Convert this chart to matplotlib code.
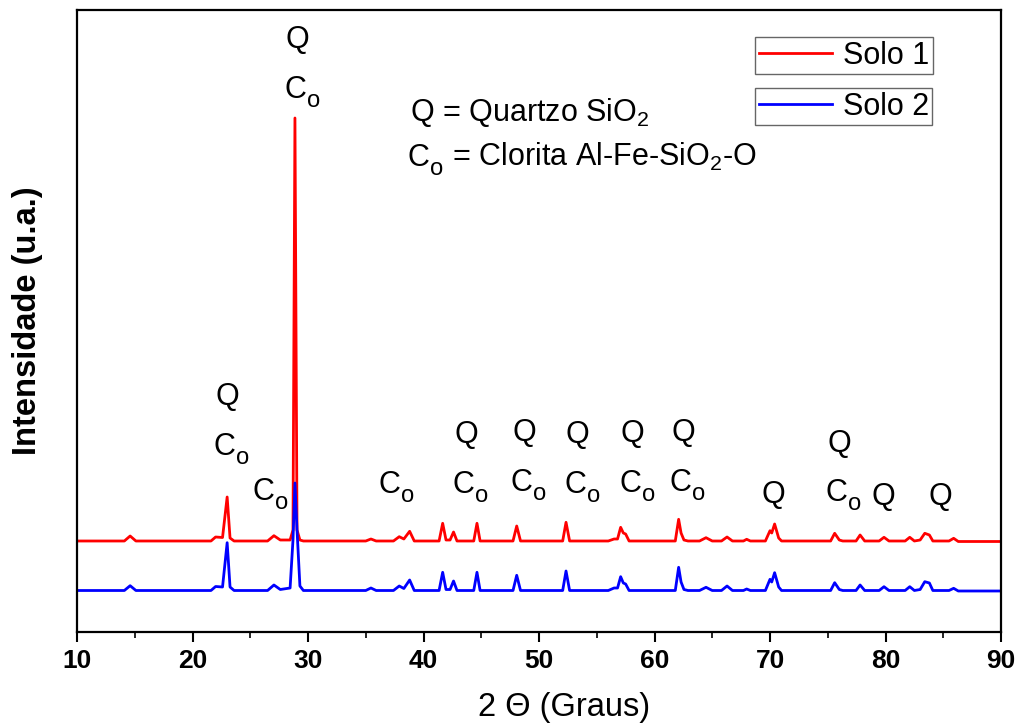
import matplotlib
matplotlib.use("Agg")
import matplotlib.pyplot as plt
from matplotlib.lines import Line2D
from matplotlib.ticker import MultipleLocator

plt.rcParams['font.family'] = ['Liberation Sans', 'DejaVu Sans']
plt.rcParams['mathtext.fontset'] = 'custom'
plt.rcParams['mathtext.rm'] = 'Liberation Sans'
plt.rcParams['mathtext.default'] = 'regular'

# ── Data ─────────────────────────────────────────────────────────────────────
two_theta = [10.0, 14.1, 14.6, 15.1, 21.6, 22.0, 22.6, 23.0, 23.25, 23.6,
             26.5, 27.05, 27.6, 28.45, 28.7, 28.87, 29.05, 29.3, 29.6,
             35.0, 35.45, 35.9, 37.4, 37.9, 38.3, 38.8, 39.2,
             41.35, 41.66, 41.95, 42.3, 42.6, 42.9, 44.35, 44.63, 44.9,
             47.75, 48.07, 48.4, 52.05, 52.34, 52.65,
             56.0, 56.5, 56.8, 57.07, 57.3, 57.5, 57.8,
             61.8, 62.09, 62.3, 62.55, 62.9, 63.9, 64.46, 65.0,
             65.8, 66.28, 66.75, 67.7, 67.98, 68.3,
             69.6, 70.0, 70.15, 70.4, 70.75, 71.0,
             75.25, 75.6, 76.0, 76.3, 77.45, 77.8, 78.2,
             79.45, 79.87, 80.3, 81.7, 82.1, 82.5,
             83.0, 83.4, 83.8, 84.1, 85.5, 85.9, 86.3, 90.0]

solo1 = [91, 91, 96, 91, 91, 95, 94.5, 135, 94, 91,
         91, 96.3, 92, 92, 102, 514, 102, 92, 91,
         91, 93, 91, 91, 95.3, 93, 100.7, 91,
         91, 108.7, 92, 92, 100, 91, 91, 108.7, 91,
         91, 106, 91, 91, 109.7, 91,
         91, 93, 93, 104.7, 99, 98, 91,
         91, 112.7, 99, 92, 91, 91, 94.3, 91,
         91, 95, 91, 91, 92.7, 91,
         91, 101.3, 99, 108, 94, 91,
         91, 98.7, 92, 91, 91, 97, 91,
         91, 94.7, 91, 91, 94.7, 91,
         92, 98.7, 97, 91, 91, 93.7, 90.5, 90.5]

solo2 = [41.5, 41.5, 46.3, 41.5, 41.5, 45.5, 45, 89.3, 45, 41.5,
         41.5, 47, 42.5, 44, 92, 149, 102, 46, 41.5,
         41.5, 44, 41.5, 41.5, 46, 43.5, 52, 41.5,
         41.5, 59.7, 42.5, 42.5, 51, 41.5, 41.5, 59.7, 41.5,
         41.5, 56.7, 41.5, 41.5, 61, 41.5,
         41.5, 44, 44, 55.3, 49, 48, 41.5,
         41.5, 64.7, 50, 42.5, 41.5, 41.5, 44.7, 41.5,
         41.5, 46, 41.5, 41.5, 43, 41.5,
         41.5, 52.7, 50, 59.3, 45, 41.5,
         41.5, 49.3, 42.5, 41.5, 41.5, 47, 41.5,
         41.5, 45.3, 41.5, 41.5, 45.3, 41.5,
         42.5, 50.3, 49, 41.5, 41.5, 43.7, 41, 41]

# Phase labels: Q = quartzo, Co = clorita (2theta, baseline height)
q_x = [22.99, 29.05, 43.68, 48.70, 53.29, 58.05, 62.47, 70.26, 75.97, 79.78, 84.72]
q_y = [227, 584, 189, 191, 189, 190, 191, 129, 180, 127, 127]
co_x = [23.33, 26.71, 29.48, 37.62, 44.03, 49.05, 53.72, 58.48, 62.81, 76.32]
co_y = [177, 132, 534, 139, 139, 141, 139, 140, 141, 131]

FS = 22


def co_label(ax, x, y, coords='data', dx0=None, fs=FS):
    """'C' with a large, dropped subscript 'o' (as drawn in the original)."""
    w_c = 0.722 * fs
    w_o = 0.556 * fs * 0.78
    left = -(w_c + w_o) / 2 if dx0 is None else dx0
    ax.annotate('C', (x, y), xycoords=coords, xytext=(left, 0),
                textcoords='offset points', fontsize=fs, ha='left', va='baseline')
    ax.annotate('o', (x, y), xycoords=coords, xytext=(left + w_c + 0.3, -6.5),
                textcoords='offset points', fontsize=fs * 0.78, ha='left',
                va='baseline')
    return left + w_c + w_o + 0.3


# ── Plot ─────────────────────────────────────────────────────────────────────
fig = plt.figure(figsize=(10.21, 7.28), dpi=100)
ax = fig.add_axes([77 / 1021, 1 - 632 / 728, 924 / 1021, 622 / 728])

ax.plot(two_theta, solo1, color='#ff0000', lw=2.0)
ax.plot(two_theta, solo2, color='#0000ff', lw=2.0)

for x, y in zip(q_x, q_y):
    ax.text(x, y, 'Q', fontsize=FS, ha='center', va='baseline')
for x, y in zip(co_x, co_y):
    co_label(ax, x, y)

# key of the phases
ax.text(0.360, 0.8215, 'Q = Quartzo SiO$_2$', transform=ax.transAxes,
        fontsize=FS, va='baseline')
end = co_label(ax, 0.358, 0.749, coords='axes fraction', dx0=0)
ax.annotate(' = Clorita Al-Fe-SiO$_2$-O', (0.358, 0.749), xycoords='axes fraction',
            xytext=(end, 0), textcoords='offset points', fontsize=FS,
            ha='left', va='baseline')

ax.set_xlim(10, 90)
ax.set_ylim(0, 622)
ax.xaxis.set_major_locator(MultipleLocator(10))
ax.xaxis.set_minor_locator(MultipleLocator(5))
ax.tick_params(axis='x', which='major', direction='out', length=7, width=1.5,
               labelsize=19, pad=5)
ax.tick_params(axis='x', which='minor', direction='out', length=4, width=1.2)
for lbl in ax.get_xticklabels():
    lbl.set_fontweight('bold')
ax.set_yticks([])
for sp in ax.spines.values():
    sp.set_linewidth(1.6)

ax.set_xlabel('2 \u0398 (Graus)', fontsize=23.5)
ax.xaxis.set_label_coords(0.527, -0.097)
ax.set_ylabel('Intensidade (u.a.)', fontsize=23.5, fontweight='bold')
ax.yaxis.set_label_coords(-0.037, 0.5)

# two separately framed legend entries
leg_kw = dict(loc='upper left', bbox_transform=fig.transFigure, fontsize=22,
              frameon=True, fancybox=False, framealpha=1, edgecolor='#666666',
              handlelength=2.4, handletextpad=0.35, borderpad=0.12,
              borderaxespad=0, labelspacing=0)
leg1 = ax.legend([Line2D([], [], color='#ff0000', lw=2.0)], ['Solo 1'],
                 bbox_to_anchor=(755 / 1021, 1 - 37 / 728), **leg_kw)
leg1.get_frame().set_linewidth(1.0)
ax.add_artist(leg1)
leg2 = ax.legend([Line2D([], [], color='#0000ff', lw=2.0)], ['Solo 2'],
                 bbox_to_anchor=(755 / 1021, 1 - 88 / 728), **leg_kw)
leg2.get_frame().set_linewidth(1.0)

fig.savefig('out.png', dpi=100)
